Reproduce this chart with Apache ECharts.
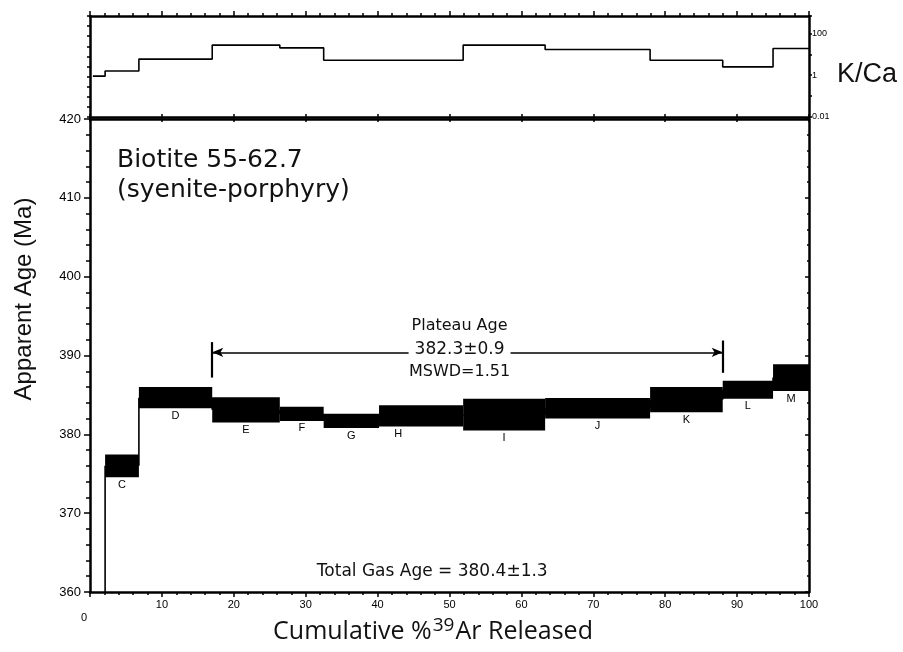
<!DOCTYPE html>
<html>
<head>
<meta charset="utf-8">
<script src="https://cdn.jsdelivr.net/npm/echarts@6/dist/echarts.min.js"></script>
<style>
  html, body { margin: 0; padding: 0; background: #fff; }
  #chart { width: 903px; height: 652px; }
</style>
</head>
<body>
<div id="chart"></div>
<script>
// Heating steps of the 40Ar/39Ar age spectrum
const stepIds     = ['B', 'C', 'D', 'E', 'F', 'G', 'H', 'I', 'J', 'K', 'L', 'M'];
// cumulative % 39Ar at the start of each step, plus the final 100 %
const stepBounds  = [0.4, 2.1, 6.8, 17.0, 26.4, 32.5, 40.2, 51.9, 63.3, 77.9, 88.0, 95.0, 100.0];
// apparent age (Ma) and half-height of each box (Ma)
const ages        = [330.0, 376.0, 384.65, 383.1, 382.6, 381.7, 382.35, 382.5, 383.3, 384.4, 385.65, 387.2];
const ageErrors   = [3.0, 1.45, 1.35, 1.6, 0.9, 0.9, 1.35, 2.0, 1.3, 1.6, 1.15, 1.7];
// K/Ca ratio of each step
const kCaRatios   = [0.9, 1.6, 5.9, 27.5, 20.4, 5.2, 5.2, 27.5, 17.0, 5.2, 2.5, 19.0];

// axis ranges and tick labels
const pctTicks    = [0, 10, 20, 30, 40, 50, 60, 70, 80, 90, 100];
const ageRange    = [360, 420];
const kCaRange    = [0.01, 680];
const kCaLabels   = [0.01, 1, 100];

// plateau and integrated results
const plateauFrom = 17.0, plateauTo = 88.0;
const plateauAge  = '382.3±0.9';
const plateauMswd = '1.51';
const totalGasAge = '380.4±1.3';

const SANS = '"Liberation Sans", Arial, sans-serif';
const ROUND = '"DejaVu Sans", sans-serif';
const OPEN = '"Open Sans", sans-serif';
const BLACK = '#000';

const chart = echarts.init(document.getElementById('chart'), null, { renderer: 'canvas' });

// small horizontal nudges for step letters that sit off-centre
const letterShift = { H: -23 };

const spectrumData = stepIds.map((id, i) => [stepBounds[i], stepBounds[i + 1], ages[i], ageErrors[i], id]);
const kCaData = stepIds.map((id, i) => [stepBounds[i], kCaRatios[i]]);
kCaData.push([stepBounds[stepBounds.length - 1], kCaRatios[kCaRatios.length - 1]]);

// text notes placed in data coordinates of the age panel: [x %, age, text lines]
const notes = [
  [51.4, 390.8, ['Plateau Age', plateauAge, 'MSWD=' + plateauMswd]],
  [47.6, 362.6, ['Total Gas Age = ' + totalGasAge]]
];

function renderStep(params, api) {
  const i = params.dataIndex;
  const x0 = api.value(0), x1 = api.value(1);
  const age = api.value(2), err = api.value(3);
  const id = stepIds[i];
  const tl = api.coord([x0, age + err]);
  const br = api.coord([x1, age - err]);
  const children = [];
  if (i > 0) {
    const a = api.coord([x0, ages[i - 1]]);
    const b = api.coord([x0, age]);
    children.push({
      type: 'line',
      shape: { x1: a[0], y1: a[1], x2: b[0], y2: b[1] },
      style: { stroke: BLACK, lineWidth: 1.6 }
    });
  }
  children.push({
    type: 'rect',
    shape: { x: tl[0], y: tl[1], width: br[0] - tl[0], height: br[1] - tl[1] },
    style: { fill: BLACK }
  });
  children.push({
    type: 'text',
    x: (tl[0] + br[0]) / 2 + (letterShift[id] || 0),
    y: br[1] + 2,
    style: {
      text: id, textAlign: 'center', textVerticalAlign: 'top',
      font: '11px ' + SANS, fill: BLACK
    }
  });
  return { type: 'group', children };
}

function renderNote(params, api) {
  const note = notes[params.dataIndex];
  const p = api.coord([note[0], note[1]]);
  const lines = note[2];
  const children = [];
  const lh = 23;
  lines.forEach((line, k) => {
    const y = p[1] + (k - (lines.length - 1) / 2) * lh;
    const isValue = lines.length === 3 && k === 1;
    children.push({
      type: 'text', x: p[0], y: y,
      style: {
        text: line, textAlign: 'center', textVerticalAlign: 'middle',
        font: (isValue ? 17 : (lines.length === 1 ? 17 : 16)) + 'px ' + ROUND,
        fill: '#111',
        backgroundColor: isValue ? '#fff' : null,
        padding: isValue ? [0, 6] : 0
      }
    });
  });
  return { type: 'group', children };
}

const axisLine = { show: true, onZero: false, lineStyle: { color: BLACK, width: 2.5 } };

const option = {
  backgroundColor: '#fff',
  animation: false,
  title: {
    text: 'Biotite 55-62.7\n(syenite-porphyry)',
    left: 112, top: 140,
    textStyle: { fontFamily: ROUND, fontSize: 25, fontWeight: 'normal', color: '#111', lineHeight: 30 }
  },
  grid: [
    { left: 90, right: 94, top: 16, height: 101, containLabel: false, outerBoundsMode: 'none' },
    { left: 90, right: 94, top: 119, height: 473, containLabel: false, outerBoundsMode: 'none' }
  ],
  xAxis: [
    { // K/Ca panel, top edge
      gridIndex: 0, type: 'value', position: 'top', min: 0, max: 100, interval: 10,
      axisLine, axisLabel: { show: false }, splitLine: { show: false },
      axisTick: { show: true, inside: false, length: 5, lineStyle: { color: BLACK, width: 1.5 } },
      minorTick: { show: true, splitNumber: 5, length: 3, lineStyle: { color: BLACK, width: 1.5 } }
    },
    { // K/Ca panel, bottom edge
      gridIndex: 0, type: 'value', position: 'bottom', min: 0, max: 100, interval: 10,
      axisLine, axisLabel: { show: false }, splitLine: { show: false },
      axisTick: { show: true, inside: true, length: 3, lineStyle: { color: BLACK, width: 1.5 } }
    },
    { // age panel, bottom edge with labels
      gridIndex: 1, type: 'value', position: 'bottom', min: 0, max: 100, interval: 10,
      axisLine, splitLine: { show: false },
      axisTick: { show: true, inside: false, length: 5, lineStyle: { color: BLACK, width: 1.5 } },
      minorTick: { show: true, splitNumber: 5, length: 3, lineStyle: { color: BLACK, width: 1.5 } },
      axisLabel: {
        color: BLACK, fontFamily: SANS, fontSize: 11, margin: 7,
        formatter: v => (pctTicks.indexOf(v) < 0 ? '' : (v === 0 ? '{z|0}' : String(v))),
        rich: { z: { fontFamily: SANS, fontSize: 11, color: BLACK, padding: [13, 12, 0, 0] } }
      }
    },
    { // age panel, top edge
      gridIndex: 1, type: 'value', position: 'top', min: 0, max: 100, interval: 10,
      axisLine, axisLabel: { show: false }, splitLine: { show: false },
      axisTick: { show: true, inside: true, length: 3, lineStyle: { color: BLACK, width: 1.5 } }
    }
  ],
  yAxis: [
    { // K/Ca panel, left edge
      gridIndex: 0, type: 'value', position: 'left', min: 0, max: 10, interval: 1,
      axisLine, axisLabel: { show: false }, splitLine: { show: false },
      axisTick: { show: true, inside: false, length: 3, lineStyle: { color: BLACK, width: 1.5 } }
    },
    { // K/Ca panel, logarithmic scale on the right
      gridIndex: 0, type: 'log', logBase: 10, position: 'right',
      min: kCaRange[0], max: kCaRange[1],
      axisLine, splitLine: { show: false },
      axisTick: { show: true, inside: false, length: 3, lineStyle: { color: BLACK, width: 1.5 } },
      axisLabel: {
        color: BLACK, fontFamily: SANS, fontSize: 9, margin: 3,
        formatter: v => {
          const hit = kCaLabels.find(t => Math.abs(Math.log10(v) - Math.log10(t)) < 1e-6);
          return hit === undefined ? '' : String(hit);
        }
      }
    },
    { // age panel, left edge with labels
      gridIndex: 1, type: 'value', position: 'left', min: ageRange[0], max: ageRange[1], interval: 10,
      axisLine, splitLine: { show: false },
      axisTick: { show: true, inside: false, length: 6, lineStyle: { color: BLACK, width: 1.5 } },
      minorTick: { show: true, splitNumber: 5, length: 4, lineStyle: { color: BLACK, width: 1.5 } },
      axisLabel: { color: BLACK, fontFamily: SANS, fontSize: 13, margin: 9 }
    },
    { // age panel, right edge
      gridIndex: 1, type: 'value', position: 'right', min: ageRange[0], max: ageRange[1], interval: 10,
      axisLine, splitLine: { show: false }, axisLabel: { show: false },
      axisTick: { show: true, inside: true, length: 4, lineStyle: { color: BLACK, width: 1.5 } },
      minorTick: { show: true, splitNumber: 5, length: 2, lineStyle: { color: BLACK, width: 1.5 } }
    }
  ],
  series: [
    {
      name: 'K/Ca', type: 'line', xAxisIndex: 0, yAxisIndex: 1,
      step: 'end', symbol: 'none', silent: true,
      lineStyle: { color: BLACK, width: 1.6 },
      data: kCaData
    },
    {
      name: 'Age spectrum', type: 'custom', xAxisIndex: 2, yAxisIndex: 2,
      clip: true, silent: true,
      renderItem: renderStep,
      encode: { x: [0, 1], y: 2 },
      data: spectrumData,
      markLine: {
        silent: true, animation: false,
        label: { show: false },
        lineStyle: { color: BLACK, width: 1.6, type: 'solid' },
        data: [
          [
            { coord: [plateauFrom, 390.4], symbol: 'arrow', symbolSize: [7, 11] },
            { coord: [plateauTo, 390.4], symbol: 'arrow', symbolSize: [7, 11] }
          ],
          [
            { coord: [plateauFrom, 391.7], symbol: 'none', lineStyle: { width: 2.2 } },
            { coord: [plateauFrom, 387.2], symbol: 'none' }
          ],
          [
            { coord: [plateauTo, 391.9], symbol: 'none', lineStyle: { width: 2.2 } },
            { coord: [plateauTo, 387.8], symbol: 'none' }
          ]
        ]
      }
    },
    {
      name: 'Notes', type: 'custom', xAxisIndex: 2, yAxisIndex: 2,
      silent: true, z: 5,
      renderItem: renderNote,
      encode: { x: 0, y: 1 },
      data: notes.map(n => [n[0], n[1]])
    }
  ],
  graphic: [
    {
      type: 'text', x: 24, y: 299, rotation: Math.PI / 2,
      style: {
        text: 'Apparent Age (Ma)', font: '24px ' + SANS, fill: '#111',
        textAlign: 'center', textVerticalAlign: 'middle'
      }
    },
    {
      type: 'text', x: 837, y: 75,
      style: {
        text: 'K/Ca', font: '27px ' + SANS, fill: '#111',
        textAlign: 'left', textVerticalAlign: 'middle'
      }
    },
    {
      type: 'text', x: 433, y: 632,
      style: {
        text: 'Cumulative %{sup|39}Ar Released',
        fontFamily: OPEN, fontSize: 25, fill: '#111',
        textAlign: 'center', textVerticalAlign: 'middle',
        rich: {
          sup: { fontFamily: OPEN, fontSize: 19, fill: '#111', padding: [0, 1, 12, 1] }
        }
      }
    }
  ]
};

chart.setOption(option);
</script>
</body>
</html>
